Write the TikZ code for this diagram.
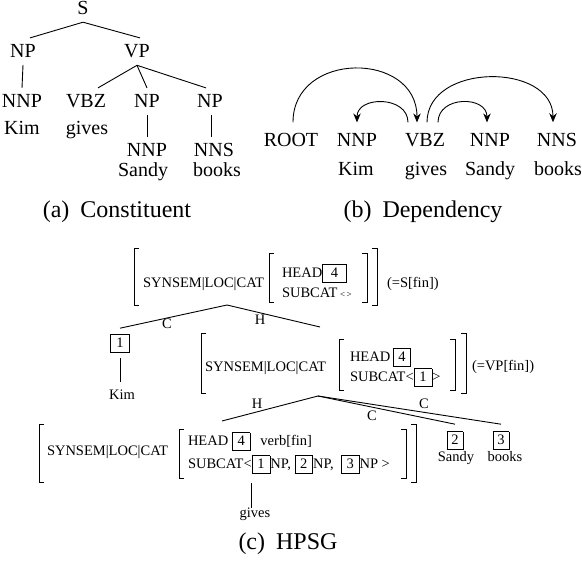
\documentclass[tikz,border=0pt]{standalone}
\usepackage{fontspec}
\setmainfont{Liberation Serif}
\usetikzlibrary{arrows.meta}
\newcommand\tg[2][17pt]{{\setlength\fboxsep{0pt}\setlength\fboxrule{0.8pt}\fbox{\makebox[#1]{\rule[-4.5pt]{0pt}{17.5pt}#2}}}}
\newcommand\lbrk[3]{\draw[brk] ({#1+5},{-#2}) -- ({#1},{-#2}) -- ({#1},{-#3}) -- ({#1+5},{-#3});}
\newcommand\rbrk[3]{\draw[brk] ({#1-5},{-#2}) -- ({#1},{-#2}) -- ({#1},{-#3}) -- ({#1-5},{-#3});}
\begin{document}
\begin{tikzpicture}[x=1pt,y=1pt,line width=0.9pt,
  trn/.style={font=\fontsize{20}{24}\selectfont, inner sep=0pt, outer xsep=0pt, outer ysep=7pt, anchor=base},
  dpn/.style={font=\fontsize{20}{24}\selectfont, inner sep=0pt, outer xsep=0pt, outer ysep=11.5pt, anchor=base},
  hp/.style={font=\fontsize{14.5}{17}\selectfont, inner sep=0pt, outer sep=0pt, anchor=base west},
  hc/.style={font=\fontsize{14.5}{17}\selectfont, inner sep=0pt, outer sep=0pt, anchor=base},
  captxt/.style={font=\fontsize{24}{28}\selectfont, inner sep=0pt, anchor=base},
  deparc/.style={-{Stealth[length=9pt,width=7.5pt]}, line width=0.9pt},
  brk/.style={line width=0.9pt},
]
\useasboundingbox (0,0) rectangle (582,-564);

% (a) constituent tree
\node[trn] (S) at (83,-15) {S};
\node[trn] (NPa) at (23,-58) {NP};
\node[trn] (VP) at (137,-58) {VP};
\node[trn] (NNPa) at (22,-108) {NNP};
\node[trn] (Kima) at (22,-135) {Kim};
\node[trn] (VBZa) at (86,-108) {VBZ};
\node[trn] (givesa) at (87,-135) {gives};
\node[trn] (NPb) at (147,-108) {NP};
\node[trn] (NNPb) at (147,-157) {NNP};
\node[trn] (Sandya) at (143,-177) {Sandy};
\node[trn] (NPc) at (210,-108) {NP};
\node[trn] (NNSa) at (214,-157) {NNS};
\node[trn] (booksa) at (217,-177) {books};
\draw (S.south) -- ([xshift=7pt]NPa.north);
\draw (S.south) -- ([xshift=3pt]VP.north);
\draw (NPa.south) -- (NNPa.north);
\draw (VP.south) -- ([xshift=12pt]VBZa.north);
\draw (VP.south) -- (NPb.north);
\draw (VP.south) -- ([xshift=-4pt]NPc.north);
\draw (NPb.south) -- (NNPb.north);
\draw ([xshift=1pt]NPc.south) -- ([xshift=1pt]NPc.south |- NNSa.north);
\node[captxt] (capa) at (117,-218) {(a)\hspace{11pt}Constituent};

% (b) dependency
\node[dpn] (root) at (291,-147) {ROOT};
\node[dpn] (nnp1) at (357,-147) {NNP};
\node[dpn] (vbz) at (425,-147) {VBZ};
\node[dpn] (nnp2) at (490,-147) {NNP};
\node[dpn] (nns) at (557,-147) {NNS};
\node[dpn] (kimb) at (356,-176) {Kim};
\node[dpn] (givesb) at (426,-176) {gives};
\node[dpn] (sandyb) at (490,-176) {Sandy};
\node[dpn] (booksb) at (558,-176) {books};
\draw[deparc] ([xshift=2pt]root.north) to[out=90,in=90,looseness=1.48] ([xshift=-8pt]vbz.north);
\draw[deparc] ([xshift=-17pt]vbz.north) to[out=90,in=90,looseness=1.35] (nnp1.north);
\draw[deparc] ([xshift=13pt]vbz.north) to[out=90,in=90,looseness=1.41] ([xshift=-3pt]nnp2.north);
\draw[deparc] ([xshift=2pt]vbz.north) to[out=90,in=90,looseness=1.22] ([xshift=-4pt]nns.north);
\node[captxt] (capb) at (423,-218) {(b)\hspace{11pt}Dependency};

% (c) HPSG
% top AVM
\lbrk{134}{248}{305} \lbrk{269}{253}{302} \rbrk{367}{253}{302} \rbrk{377}{248}{305}
\node[hp] (t1) at (143,-288) {SYNSEM|LOC|CAT};
\node[hp] (t1h) at (282,-278) {HEAD\tg[23pt]{4}};
\node[hp] (t1s) at (282,-298) {SUBCAT\,{\fontsize{9}{10}\selectfont<\,>}};
\node[hp] (t1e) at (387,-288) {(=S[fin])};

% middle AVM
\lbrk{201}{333}{393} \lbrk{339}{339}{390} \rbrk{455}{339}{390} \rbrk{466}{333}{393}
\node[hp] (m1) at (205,-372) {SYNSEM|LOC|CAT};
\node[hp] (m1h) at (350,-362) {HEAD\,\tg{4}};
\node[hp] (m1s) at (350,-382) {SUBCAT<\tg{1}>};
\node[hp] (m1e) at (472,-371) {(=VP[fin])};

% bottom AVM
\lbrk{39}{424}{482} \lbrk{179}{429}{478} \rbrk{406}{429}{478} \rbrk{416}{424}{482}
\node[hp] (b1t) at (47,-456) {SYNSEM|LOC|CAT};
\node[hp] (b1h) at (188,-446) {HEAD \tg{4}\hspace{10pt}verb[fin]};
\node[hp] (b1s) at (188,-469) {SUBCAT<};
\node[hp] (bx1) at (b1s.base east) {\tg{1}};
\node[hp] (b1r) at (bx1.base east) {NP, \tg{2}NP, \ \tg{3}NP >};
\node[hc] (gv) at (255,-518) {gives};
\draw ([yshift=-9pt]bx1.south west) -- (bx1.south west |- gv.north);

% leaves
\node[hc] (kb) at (120,-348) {\tg[18pt]{1}};
\node[hc] (kim) at (122,-400) {Kim};
\draw[shorten <=5pt, shorten >=8pt] (kb.south) -- (kb.south |- kim.north);
\node[hc] (kb2) at (455,-445) {\tg[15pt]{2}};
\node[hc] (kb3) at (501,-445) {\tg[15pt]{3}};
\node[hc] (sandy) at (456,-462) {Sandy};
\node[hc] (books) at (505,-462) {books};

% tree edges
\coordinate (ta) at (227,-305);
\coordinate (trr) at (320,-327);
\draw (ta) -- ([yshift=6pt]kb.north);
\draw (ta) -- (trr);
\node[hc] (lc1) at (167,-329) {C};
\node[hc] (lh1) at (260,-325) {H};
\coordinate (ma) at (318,-396);
\coordinate (mb) at (222,-421);
\draw (ma) -- (mb);
\draw (ma) -- ([yshift=7pt]kb2.north);
\draw (ma) -- ([yshift=7pt]kb3.north);
\node[hc] (lh2) at (257,-409) {H};
\node[hc] (lc2) at (372,-421) {C};
\node[hc] (lc3) at (424,-409) {C};

\node[captxt] (capc) at (288,-550) {(c)\hspace{11pt}HPSG};
\end{tikzpicture}
\end{document}
